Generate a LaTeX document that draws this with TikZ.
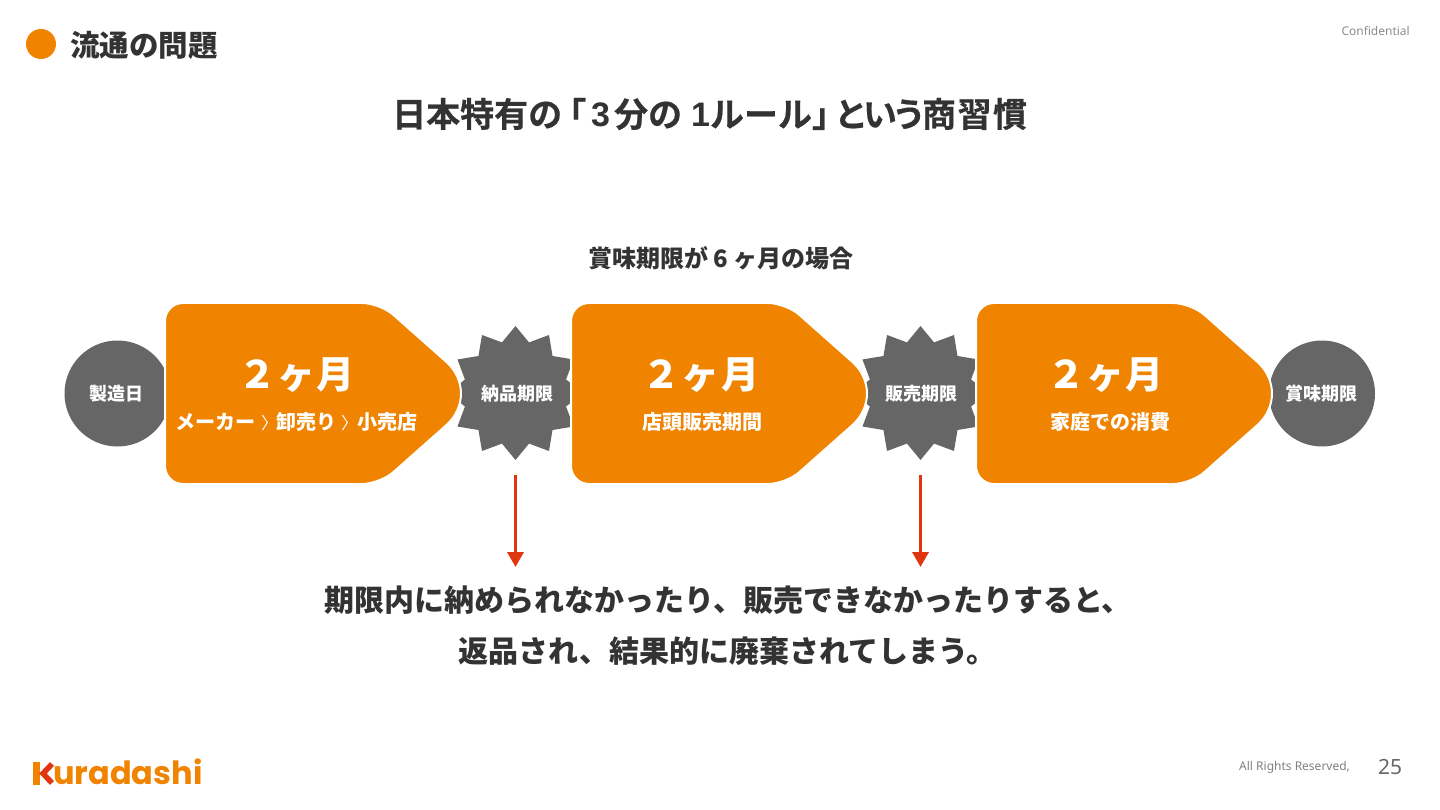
\documentclass[tikz,border=0pt]{standalone}
\usepackage{fontspec}
\setmainfont{Noto Sans CJK JP}
\newfontfamily\latinfont{Noto Sans}
\newfontfamily\logofont{Poppins}
\newfontfamily\digitfont{Liberation Sans}
\newfontfamily\titlefont[FakeBold=0.5]{Noto Sans CJK JP Bold}
\usetikzlibrary{positioning,shapes.geometric,arrows.meta}

\definecolor{kuraorange}{HTML}{F08300}
\definecolor{kuragray}{HTML}{666666}
\definecolor{kuradark}{HTML}{333333}
\definecolor{kurared}{HTML}{E0360F}

\newcommand{\jpsize}[1]{\fontsize{#1}{#1}\selectfont\bfseries}
\newcommand{\twomonths}{２\kern1.5pt ヶ\kern1.5pt 月}
\newcommand{\chev}{{\mdseries\fontsize{17}{17}\selectfont 〉}}
\newcommand{\titledigit}[1]{{\digitfont\bfseries #1}}

\tikzset{
    roundnode/.style={circle, fill=kuragray, minimum size=106pt, inner sep=0pt},
    starnode/.style={star, star points=12, star point ratio=1.28, fill=kuragray, minimum size=134pt, inner sep=0pt},
    greylabel/.style={text=white, font=\jpsize{18}, inner sep=0pt},
    monthlabel/.style={text=white, font=\jpsize{38}, inner sep=0pt},
    sublabel/.style={text=white, font=\jpsize{20}, inner sep=0pt},
    bodylabel/.style={text=kuradark, font=\jpsize{30}, inner sep=0pt},
    downarrow/.style={draw=kurared, line width=3.5pt, -{Triangle[length=15pt,width=16pt]}},
    plate/.style={fill=kuraorange, draw=white, line width=2pt}
}

\begin{document}
\begin{tikzpicture}[x=1pt, y=-1pt]
    \useasboundingbox (0,0) rectangle (1440,810);

    % the header
    \fill[kuraorange] (41,44) circle [radius=15];
    \node[text=kuradark, font=\jpsize{29.5}, inner sep=0pt, anchor=west] (header) at (70,45) {流通の問題};
    \node[text=gray!90, font=\latinfont\fontsize{12}{12}\selectfont, inner sep=0pt, anchor=east] (conf) at (1410,31) {Confidential};

    % the title and the line above the row
    \node[text=kuradark, font=\titlefont\fontsize{34}{34}\selectfont, inner sep=0pt, anchor=west] (title) at (392,114)
        {日本特有の\kern-10pt「\kern5pt\titledigit{3}\kern4pt 分の\kern9pt\titledigit{1}\kern0pt ルール」\kern-12pt と\kern-5pt い\kern-5pt う\kern-4pt 商\kern1.5pt 習\kern1.5pt 慣};
    \node[text=kuradark, font=\jpsize{24}, inner sep=0pt] (case) at (721,258) {賞味期限が 6 ヶ月の場合};

    % the circles and the stars go under the plates
    \node[roundnode] (made) at (117.5,393.5) {};
    \node[roundnode] (limit) at (1322,393.5) {};
    \node[starnode] (deliver) at (515.5,393) {};
    \node[starnode] (sell) at (920.5,393) {};

    % the three orange plates
    \foreach \x in {165,571,976}
    \draw[plate] (\x,393.5) [rounded corners=18pt] -- (\x,303) -- ++(215,0)
        [rounded corners=48pt] -- ++(102,90.5) [rounded corners=18pt] -- ++(-102,90.5)
        -- (\x,484) [sharp corners] -- cycle;

    % the labels in the grey shapes
    \node[greylabel] (madetext) at (116,393.5) {製造日};
    \node[greylabel] (limittext) at (1321,393.5) {賞味期限};
    \node[greylabel] (delivertext) at (517,393.5) {納品期限};
    \node[greylabel] (selltext) at (921,393.5) {販売期限};

    % the labels in the plates
    \node[monthlabel] (month1) at (296.5,375) {\twomonths};
    \node[monthlabel] (month2) at (701,375) {\twomonths};
    \node[monthlabel] (month3) at (1105.5,375) {\twomonths};
    \node[sublabel] (route) at (296,422) {メーカー\kern6pt\chev\kern-2pt 卸売り\kern5pt\chev\kern-1pt 小売店};
    \node[sublabel] (shop) at (702,422) {店頭販売期間};
    \node[sublabel] (home) at (1110,422) {家庭での消費};

    % the two lines at the bottom
    \node[bodylabel] (body1) at (728,600) {期限内に納められなかったり、販売できなかったりすると、};
    \node[bodylabel] (body2) at (727.5,651) {返品され、結果的に廃棄されてしまう。};

    % the arrows from the stars
    \coordinate (end1) at (515.5,567);
    \coordinate (end2) at (920.5,567);
    \draw[downarrow] ([yshift=-15pt]deliver.south) -- (end1);
    \draw[downarrow] ([yshift=-15pt]sell.south) -- (end2);

    % the logo, its K is drawn
    \fill[kuraorange] (33,762) rectangle (40,785);
    \draw[kurared, line width=5.5pt] (52,764) -- (43,773.5) -- (52,783);
    \node[text=kuraorange, font=\logofont\bfseries\fontsize{32}{32}\selectfont, inner sep=0pt, anchor=base west] (logo) at (53,784.5) {uradashi};

    % the footer
    \node[text=gray, font=\latinfont\fontsize{12}{12}\selectfont, inner sep=0pt, anchor=west] (rights) at (1239,767) {All Rights Reserved,};
    \node[text=kuragray, font=\latinfont\fontsize{21}{21}\selectfont, inner sep=0pt] (page) at (1390,767) {25};
\end{tikzpicture}
\end{document}
